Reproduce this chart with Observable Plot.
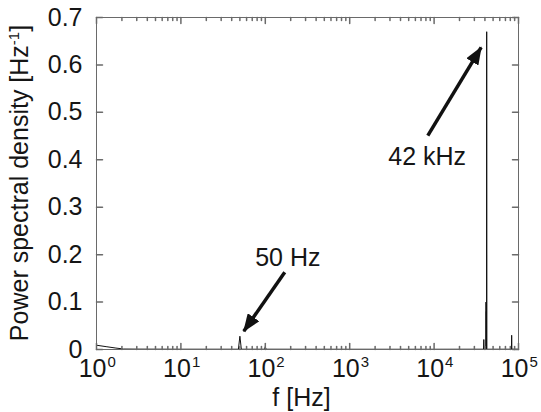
<!DOCTYPE html>
<html>
<head>
<meta charset="utf-8">
<script src="https://cdn.jsdelivr.net/npm/d3@7"></script>
<script src="https://cdn.jsdelivr.net/npm/@observablehq/plot@0.6"></script>
<style>
  html, body { margin: 0; padding: 0; background: #fff; }
  #chart svg { display: block; }
</style>
</head>
<body>
<div id="chart"></div>
<script>
// ---- data ----
const freq = [1, 1.3, 1.7, 2.1, 3, 10, 30, 48, 50, 52, 98, 100, 102, 1000, 10000, 30000,
  38500, 38800, 39100, 41000, 41200, 41400, 41600, 41800, 42000, 42200, 42400, 60000, 82500, 83000, 83500, 100000];
const psd = [0.009, 0.006, 0.003, 0.001, 0.0008, 0.0006, 0.0006, 0.0006, 0.028, 0.0006, 0.0006, 0.006, 0.0006, 0.0005, 0.0005, 0.0006,
  0.0006, 0.021, 0.0006, 0.0006, 0.1, 0.002, 0.08, 0.002, 0.67, 0.002, 0.0006, 0.0006, 0.0006, 0.03, 0.0006, 0.0006];

const xTickValues = [1, 10, 100, 1000, 10000, 100000];
const xTickBase = ["10", "10", "10", "10", "10", "10"];
const xTickExponent = ["0", "1", "2", "3", "4", "5"];
const yTickValues = [0, 0.1, 0.2, 0.3, 0.4, 0.5, 0.6, 0.7];
const yTickLabels = ["0", "0.1", "0.2", "0.3", "0.4", "0.5", "0.6", "0.7"];

const annotationLabels = ["50 Hz", "42 kHz"];
const annotationTextX = [185, 8280];
const annotationTextY = [0.193, 0.405];
const arrowFromX = [170, 8420];
const arrowFromY = [0.163, 0.451];
const arrowToX = [55.6, 36100];
const arrowToY = [0.0386, 0.637];

const xTitle = "f [Hz]";
const yTitle = "Power spectral density [Hz";
const yTitleSup = "-1";

// ---- build tables ----
const spectrum = freq.map((f, i) => ({f, p: psd[i]}));
const xMajor = xTickValues.map((v, i) => ({v, base: xTickBase[i], exp: xTickExponent[i]}));
const xMinor = [];
for (let k = 0; k < xTickValues.length - 1; k++) for (let m = 2; m <= 9; m++) xMinor.push(xTickValues[k] * m);
const yMajor = yTickValues.map((v, i) => ({v, label: yTickLabels[i]}));
const annotations = annotationLabels.map((label, i) => ({
  label, tx: annotationTextX[i], ty: annotationTextY[i],
  x1: arrowFromX[i], y1: arrowFromY[i], x2: arrowToX[i], y2: arrowToY[i]
}));

const font = "'Liberation Sans', Arial, Helvetica, sans-serif";
const ink = "#151515";
const frameColor = "#6a6a6a";

const tickShape = {draw(ctx, l) { ctx.moveTo(0, 0); ctx.lineTo(0, -l); }};

function filledHead(color, context) {
  const m = d3.create("svg:marker")
    .attr("viewBox", "-18 -7 18 14")
    .attr("markerWidth", 18)
    .attr("markerHeight", 14)
    .attr("markerUnits", "userSpaceOnUse")
    .attr("refX", -1)
    .attr("orient", "auto")
    .attr("fill", color)
    .attr("stroke", "none");
  m.append("path").attr("d", "M-18,-7L0,0L-18,7Z");
  return m.node();
}

const chart = Plot.plot({
  width: 541,
  height: 412,
  marginLeft: 96,
  marginRight: 23,
  marginTop: 17,
  marginBottom: 63,
  style: {fontFamily: font, fontSize: "25px", color: ink, background: "#fff"},
  x: {type: "log", domain: [1, 100000], axis: null},
  y: {domain: [0, 0.7], axis: null},
  marks: [
    // spectrum
    Plot.line(spectrum, {x: "f", y: "p", stroke: "#111", strokeWidth: 1}),
    // frame
    Plot.frame({stroke: frameColor, strokeWidth: 1}),
    // x ticks (inside, bottom and top)
    Plot.vector(xMajor, {x: "v", frameAnchor: "bottom", length: 6, rotate: 0, anchor: "start", shape: tickShape, stroke: frameColor}),
    Plot.vector(xMinor, {x: d => d, frameAnchor: "bottom", length: 3, rotate: 0, anchor: "start", shape: tickShape, stroke: frameColor}),
    Plot.vector(xMajor, {x: "v", frameAnchor: "top", length: 6, rotate: 180, anchor: "start", shape: tickShape, stroke: frameColor}),
    Plot.vector(xMinor, {x: d => d, frameAnchor: "top", length: 3, rotate: 180, anchor: "start", shape: tickShape, stroke: frameColor}),
    // y ticks (inside, left and right)
    Plot.vector(yMajor, {y: "v", frameAnchor: "left", length: 6, rotate: 90, anchor: "start", shape: tickShape, stroke: frameColor}),
    Plot.vector(yMajor, {y: "v", frameAnchor: "right", length: 6, rotate: -90, anchor: "start", shape: tickShape, stroke: frameColor}),
    // x tick labels 10^k
    Plot.text(xMajor, {x: "v", frameAnchor: "bottom", text: "base", textAnchor: "end", lineAnchor: "top", dx: 10, dy: 10, fill: ink, fontSize: 25}),
    Plot.text(xMajor, {x: "v", frameAnchor: "bottom", text: "exp", textAnchor: "start", lineAnchor: "top", dx: 11, dy: 7, fill: ink, fontSize: 15}),
    // y tick labels
    Plot.text(yMajor, {y: "v", frameAnchor: "left", text: "label", textAnchor: "end", lineAnchor: "middle", dx: -14, fill: ink, fontSize: 25}),
    // x title
    Plot.text([xTitle], {frameAnchor: "bottom", text: d => d, lineAnchor: "top", dx: -6, dy: 39, fill: ink, fontSize: 25}),
    // annotations
    Plot.link(annotations, {x1: "x1", y1: "y1", x2: "x2", y2: "y2", stroke: "#111", strokeWidth: 3.5, markerEnd: filledHead}),
    Plot.text(annotations, {x: "tx", y: "ty", text: "label", lineAnchor: "middle", fill: ink, fontSize: 25})
  ]
});

// y-axis title with superscript
const svg = d3.select(chart);
const t = svg.append("text")
  .attr("transform", "translate(19,183) rotate(-90)")
  .attr("text-anchor", "middle")
  .attr("dy", "0.35em")
  .attr("fill", ink)
  .style("font-family", font)
  .style("font-size", "25px");
t.append("tspan").text(yTitle);
t.append("tspan").attr("dy", -9).style("font-size", "15px").text(yTitleSup);
t.append("tspan").attr("dy", 9).text("]");

document.getElementById("chart").appendChild(chart);
</script>
</body>
</html>
